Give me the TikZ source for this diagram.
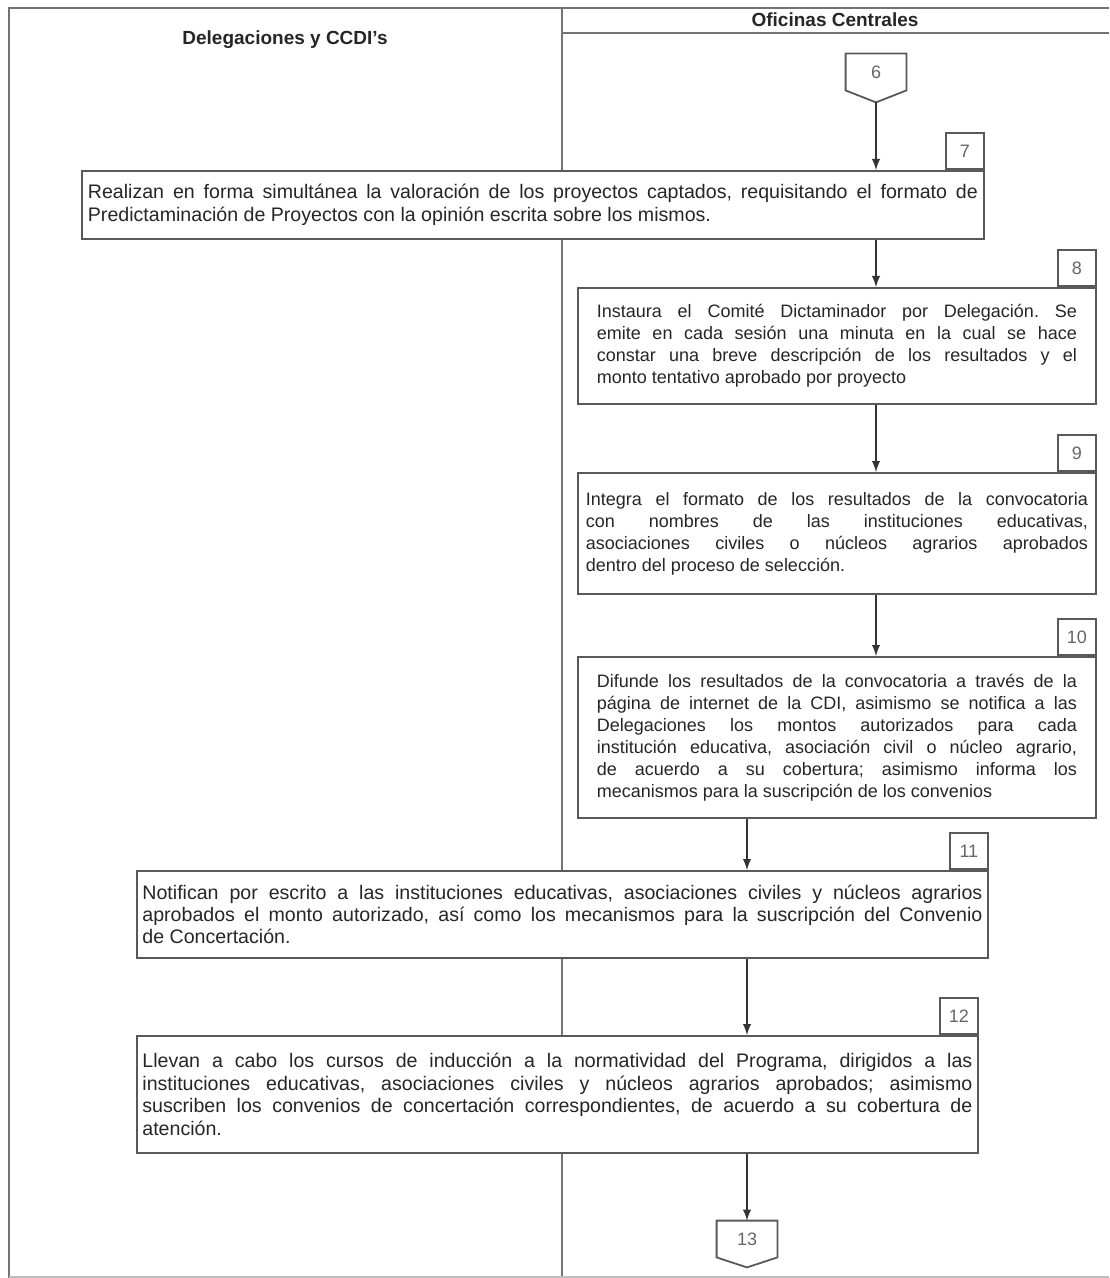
\documentclass[tikz,border=0pt]{standalone}
\usepackage{fontspec}
\setmainfont{Liberation Sans}
\usepackage{tikz}
\usetikzlibrary{shapes.geometric}
\frenchspacing

\begin{document}
\begin{tikzpicture}[x=0.5pt,y=-0.5pt,
  line width=0.9pt,
  box/.style={rectangle,draw=black!65,fill=white,anchor=north west,inner xsep=2pt,
    align=justify,font=\fontsize{9}{11}\selectfont,text=black!85},
  wide/.style={font=\fontsize{9.8}{11.2}\selectfont},
  tab/.style={rectangle,draw=black!65,fill=white,anchor=south east,minimum width=19pt,
    minimum height=18pt,inner sep=0pt,font=\fontsize{9}{11}\selectfont,text=black!60},
  con/.style={rectangle,minimum width=29.5pt,minimum height=17.5pt,inner sep=0pt,
    font=\fontsize{9}{11}\selectfont,text=black!60},
  head/.style={font=\fontsize{9.5}{11}\selectfont\bfseries,text=black!85},
  frame/.style={draw=black!55,line width=1pt}]
\useasboundingbox (0,0) rectangle (1109,1278);
% swimlanes
\draw[frame] (9,1278)--(9,8)--(1109,8);
\draw[frame] (562,8)--(562,1278);
\draw[frame] (562,33)--(1109,33);
\draw[black!25] (9,1277)--(1109,1277);
\path (835,20) node(hoc)[head]{Oficinas Centrales}
(285,40) node(hdel)[head]{Delegaciones y CCDI's};

\path (876,72) node(c6)[con]{6}
(81,170) node(b7)[box,wide,minimum width=451pt,minimum height=34pt,text width=445pt]{Realizan en forma simultánea la valoración de los proyectos captados, requisitando el formato de\linebreak Predictaminación de Proyectos con la opinión escrita sobre los mismos.}
(577,287) node(b8)[box,minimum width=259pt,minimum height=58pt,text width=240pt]{Instaura el Comité Dictaminador por Delegación. Se\linebreak emite en cada sesión una minuta en la cual se hace\linebreak constar una breve descripción de los resultados y el\linebreak monto tentativo aprobado por proyecto}
(577,472) node(b9)[box,minimum width=259pt,minimum height=60.5pt,text width=251pt]{Integra el formato de los resultados de la convocatoria\linebreak con nombres de las instituciones educativas,\linebreak asociaciones civiles o núcleos agrarios aprobados\linebreak dentro del proceso de selección.}
(577,656) node(b10)[box,minimum width=259pt,minimum height=80.5pt,text width=240pt]{Difunde los resultados de la convocatoria a través de la\linebreak página de internet de la CDI, asimismo se notifica a las\linebreak Delegaciones los montos autorizados para cada\linebreak institución educativa, asociación civil o núcleo agrario,\linebreak de acuerdo a su cobertura; asimismo informa los\linebreak mecanismos para la suscripción de los convenios}
(136,870) node(b11)[box,wide,minimum width=425.5pt,minimum height=43.5pt,text width=420pt]{Notifican por escrito a las instituciones educativas, asociaciones civiles y núcleos agrarios\linebreak aprobados el monto autorizado, así como los mecanismos para la suscripción del Convenio\linebreak de Concertación.}
(136,1035) node(b12)[box,wide,minimum width=420.5pt,minimum height=58.5pt,text width=415pt]{Llevan a cabo los cursos de inducción a la normatividad del Programa, dirigidos a las\linebreak instituciones educativas, asociaciones civiles y núcleos agrarios aprobados; asimismo\linebreak suscriben los convenios de concertación correspondientes, de acuerdo a su cobertura de\linebreak atención.}
(747,1239) node(c13)[con]{13};

\path (b7.north east) node(t7)[tab]{7}
(b8.north east) node(t8)[tab]{8}
(b9.north east) node(t9)[tab]{9}
(b10.north east) node(t10)[tab]{10}
(b11.north east) node(t11)[tab]{11}
(b12.north east) node(t12)[tab]{12};

\draw[black!65] (c6.north west)--(c6.north east)--(c6.south east)--([yshift=-6pt]c6.south)--(c6.south west)--cycle;
\draw[black!65] (c13.north west)--(c13.north east)--(c13.south east)--([yshift=-5pt]c13.south)--(c13.south west)--cycle;

\draw[black!80,-latex]([yshift=-6pt]c6.south)--(b7.north -| c6.south);
\draw[black!80,-latex](b7.south -| c6.south)--(b8.north -| c6.south);
\draw[black!80,-latex](b8.south -| c6.south)--(b9.north -| c6.south);
\draw[black!80,-latex](b9.south -| c6.south)--(b10.north -| c6.south);
\draw[black!80,-latex](b10.south -| c13.north)--(b11.north -| c13.north);
\draw[black!80,-latex](b11.south -| c13.north)--(b12.north -| c13.north);
\draw[black!80,-latex](b12.south -| c13.north)--(c13.north);

\end{tikzpicture}
\end{document}
